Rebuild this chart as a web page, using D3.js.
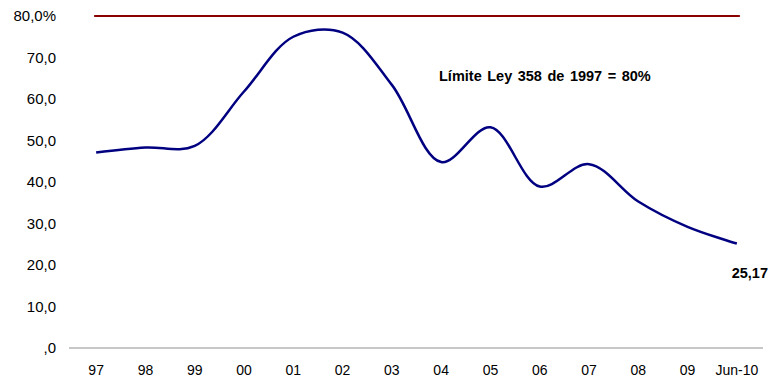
<!DOCTYPE html>
<html>
<head>
<meta charset="utf-8">
<script src="https://cdn.jsdelivr.net/npm/d3@7"></script>
<style>
  body { margin: 0; background: #fff; }
  svg { display: block; font-family: "Liberation Sans", Arial, sans-serif; }
</style>
</head>
<body>
<div id="chart"></div>
<script>
// datos
const years = ["97", "98", "99", "00", "01", "02", "03", "04", "05", "06", "07", "08", "09", "Jun-10"];
const deuda = [47.1, 48.3, 48.7, 61.8, 75.0, 76.0, 63.4, 44.8, 53.2, 38.9, 44.3, 35.3, 29.2, 25.17];
const limite = 80;
const yTicks = [0, 10, 20, 30, 40, 50, 60, 70, 80];

function createChart() {
    const width = 769;
    const height = 380;

    const svg = d3.select("#chart")
        .append("svg")
        .attr("width", width)
        .attr("height", height);

    const x = d3.scalePoint()
        .domain(years)
        .range([71.5, 761.5])
        .padding(0.5);

    const y = d3.scaleLinear()
        .domain([0, 80])
        .range([348, 16]);

    // etiquetas eje Y
    function fmt(v) {
        if (v === 0) return ",0";
        var s = v.toFixed(1).replace(".", ",");
        return v === 80 ? s + "%" : s;
    }
    svg.append("g")
        .selectAll("text")
        .data(yTicks)
        .enter().append("text")
        .attr("x", 56)
        .attr("y", d => y(d))
        .attr("dy", "0.36em")
        .attr("text-anchor", "end")
        .style("font-size", "15px")
        .style("fill", "#000")
        .text(fmt);

    // eje X (linea gris)
    svg.append("line")
        .attr("x1", 69)
        .attr("x2", 763)
        .attr("y1", y(0))
        .attr("y2", y(0))
        .style("stroke", "#b4b4b4")
        .style("stroke-width", 1.5);

    svg.append("g")
        .selectAll("text")
        .data(years)
        .enter().append("text")
        .attr("x", d => x(d))
        .attr("y", 370)
        .attr("dy", "0.36em")
        .attr("text-anchor", "middle")
        .style("font-size", "14px")
        .style("fill", "#000")
        .text(d => d);

    // linea del limite
    svg.append("line")
        .attr("x1", x(years[0]) - 2)
        .attr("x2", x(years[years.length - 1]) + 3)
        .attr("y1", y(limite))
        .attr("y2", y(limite))
        .style("stroke", "#8b0000")
        .style("stroke-width", 2);

    const line = d3.line()
        .x((d, i) => x(years[i]))
        .y(d => y(d))
        .curve(d3.curveCatmullRom.alpha(0.5));

    svg.append("path")
        .datum(deuda)
        .attr("d", line)
        .style("fill", "none")
        .style("stroke", "#000080")
        .style("stroke-width", 2.5);

    svg.append("text")
        .attr("x", 439)
        .attr("y", 76)
        .attr("dy", "0.36em")
        .style("font-size", "14.5px")
        .style("font-weight", "bold")
        .style("word-spacing", "1.5px")
        .text("Límite Ley 358 de 1997 = 80%");

    const last = deuda[deuda.length - 1];
    svg.append("text")
        .attr("x", 768)
        .attr("y", y(last) + 29)
        .attr("dy", "0.36em")
        .attr("text-anchor", "end")
        .style("font-size", "14.5px")
        .style("font-weight", "bold")
        .text(last.toFixed(2).replace(".", ","));
}

document.addEventListener("DOMContentLoaded", createChart);
</script>
</body>
</html>
